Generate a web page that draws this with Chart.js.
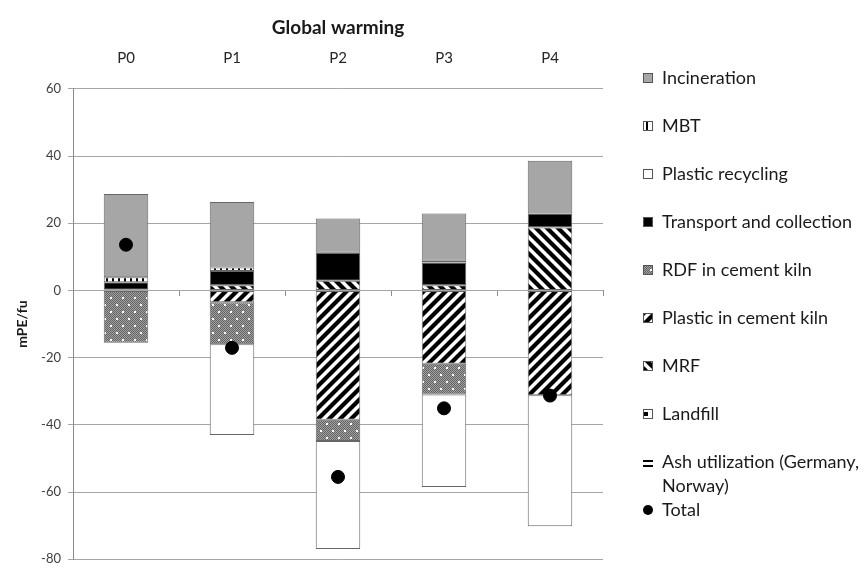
<!DOCTYPE html>
<html>
<head>
<meta charset="utf-8">
<script src="https://cdn.jsdelivr.net/npm/chart.js@4.4.0/dist/chart.umd.min.js"></script>
<style>
  html, body { margin: 0; padding: 0; background: #fff; }
</style>
</head>
<body>
<canvas id="gwChart" width="866" height="574"></canvas>
<script>
// values (mPE/fu)
var categories = ['P0', 'P1', 'P2', 'P3', 'P4'];
var incineration     = [24.8, 19.5, 10.2, 14.1, 15.7];
var mbt              = [1.5, 1.0, null, 0.5, null];
var plasticRecycling = [null, -27.0, -32.2, -27.5, -39.0];
var transport        = [2.2, 4.3, 8.3, 6.8, 4.2];
var rdfKiln          = [-15.6, -12.5, -6.3, -9.2, null];
var plasticKiln      = [null, -3.5, -38.5, -21.8, -31.2];
var mrf              = [null, 1.5, 2.9, 1.5, 18.7];
var landfill         = [0.2, null, null, null, null];
var ashUtil          = [null, null, null, null, null];
var total            = [13.6, -17.1, -55.5, -35.1, -31.3];
var yTicks = [60, 40, 20, 0, -20, -40, -60, -80];

Chart.defaults.font.family = 'Lato, "Liberation Sans", sans-serif';
Chart.defaults.color = '#262626';

var canvas = document.getElementById('gwChart');
var ctx = canvas.getContext('2d');

function makePattern(w, h, draw) {
  var c = document.createElement('canvas');
  c.width = w; c.height = h;
  var g = c.getContext('2d');
  g.fillStyle = '#fff';
  g.fillRect(0, 0, w, h);
  draw(g, w, h);
  return ctx.createPattern(c, 'repeat');
}

// hatch tile; lines run past the tile edges so the corners join up
function diagonal(rising) {
  return makePattern(11, 11, function (g, s) {
    g.strokeStyle = '#000';
    g.lineWidth = 4.2;
    for (var k = -1; k <= 1; k++) {
      g.beginPath();
      if (rising) { g.moveTo(k * s - 3, s + 3); g.lineTo(k * s + s + 3, -3); }
      else { g.moveTo(k * s - 3, -3); g.lineTo(k * s + s + 3, s + 3); }
      g.stroke();
    }
  });
}

var fills = {
  incineration: '#a6a6a6',
  mbt: makePattern(6, 6, function (g) { g.fillStyle = '#000'; g.fillRect(4, 0, 2, 6); }),
  plasticRecycling: '#ffffff',
  transport: '#000000',
  rdfKiln: makePattern(12, 14, function (g, w, h) {
    for (var x = 0; x < w; x++) {
      for (var y = 0; y < h; y++) {
        g.fillStyle = (x + y) % 2 ? '#a0a0a0' : '#646464';
        g.fillRect(x, y, 1, 1);
      }
    }
    g.fillStyle = '#fff';
    g.fillRect(2, 3, 2, 2); g.fillRect(8, 10, 2, 2);
  }),
  plasticKiln: diagonal(true),
  mrf: diagonal(false),
  landfill: makePattern(8, 8, function (g) { g.fillStyle = '#000'; g.fillRect(4, 4, 4, 4); }),
  ashUtil: makePattern(5, 5, function (g) { g.fillStyle = '#000'; g.fillRect(0, 0, 5, 2); })
};

function barSet(label, data, fill, icon) {
  return {
    type: 'bar',
    label: label,
    data: data,
    backgroundColor: fill,
    borderColor: '#666666',
    borderWidth: 1,
    borderSkipped: false,
    categoryPercentage: 1,
    barPercentage: 0.42,
    order: 1,
    legendIcon: icon || 'box'
  };
}

// stacking order from zero outwards (legend shows it reversed)
var datasets = [
  barSet('Ash utilization (Germany,\nNorway)', ashUtil, fills.ashUtil, 'plain'),
  barSet('Landfill', landfill, fills.landfill),
  barSet('MRF', mrf, fills.mrf),
  barSet('Plastic in cement kiln', plasticKiln, fills.plasticKiln),
  barSet('RDF in cement kiln', rdfKiln, fills.rdfKiln),
  barSet('Transport and collection', transport, fills.transport),
  barSet('Plastic recycling', plasticRecycling, fills.plasticRecycling),
  barSet('MBT', mbt, fills.mbt),
  barSet('Incineration', incineration, fills.incineration),
  {
    type: 'line',
    label: 'Total',
    data: total,
    showLine: false,
    stack: 'total',
    pointRadius: 6.5,
    pointHoverRadius: 6.5,
    pointBackgroundColor: '#000',
    pointBorderColor: '#000',
    borderColor: '#000',
    backgroundColor: '#000',
    order: 0,
    legendIcon: 'dot'
  }
];

var sideLegend = {
  id: 'sideLegend',
  afterDraw: function (chart, args, opts) {
    var c = chart.ctx;
    var sets = chart.data.datasets;
    var bars = sets.filter(function (d) { return d.type === 'bar'; }).reverse();
    var items = bars.concat(sets.filter(function (d) { return d.type !== 'bar'; }));
    c.save();
    c.font = opts.fontSize + 'px ' + Chart.defaults.font.family;
    c.textBaseline = 'middle';
    c.textAlign = 'left';
    items.forEach(function (d, i) {
      var cy = opts.top + i * opts.step;
      var bx = opts.boxX, bs = opts.boxSize;
      if (d.legendIcon === 'dot') {
        c.fillStyle = '#000';
        c.beginPath();
        c.arc(bx + bs / 2, cy, bs / 2, 0, Math.PI * 2);
        c.fill();
      } else {
        c.fillStyle = d.backgroundColor;
        c.fillRect(bx, cy - bs / 2, bs, bs);
        if (d.legendIcon !== 'plain') {
          c.strokeStyle = '#555';
          c.lineWidth = 1;
          c.strokeRect(bx + 0.5, cy - bs / 2 + 0.5, bs - 1, bs - 1);
        }
      }
      c.fillStyle = '#1a1a1a';
      d.label.split('\n').forEach(function (line, j) {
        c.fillText(line, opts.textX, cy + j * opts.lineGap);
      });
    });
    c.restore();
  }
};

new Chart(ctx, {
  type: 'bar',
  data: {
    labels: categories,
    datasets: datasets
  },
  plugins: [sideLegend],
  options: {
    responsive: false,
    animation: false,
    devicePixelRatio: 1,
    layout: { padding: { left: 0, right: 263, top: 0, bottom: 7 } },
    plugins: {
      legend: { display: false },
      tooltip: { enabled: false },
      title: {
        display: true,
        text: 'Global warming',
        fullSize: false,
        color: '#1a1a1a',
        font: { size: 19, weight: 'bold' },
        padding: { top: 16, bottom: 10 }
      },
      sideLegend: { top: 78, step: 48, boxX: 643, boxSize: 10, textX: 662, fontSize: 18, lineGap: 24 }
    },
    scales: {
      x: {
        position: 'top',
        stacked: true,
        grid: { display: false, drawTicks: false },
        border: { display: false },
        ticks: { padding: 22, color: '#262626', font: { size: 15 } },
        afterFit: function (scale) { scale.height = 40; }
      },
      x2: {
        axis: 'x',
        type: 'category',
        labels: categories,
        position: { y: 0 },
        offset: true,
        grid: { drawOnChartArea: false, offset: true, tickLength: 6, color: '#8c8c8c' },
        border: { display: false },
        ticks: { display: false },
        afterFit: function (scale) { scale.height = 0; }
      },
      y: {
        stacked: true,
        min: -80,
        max: 60,
        afterBuildTicks: function (scale) {
          scale.ticks = yTicks.map(function (v) { return { value: v }; });
        },
        afterFit: function (scale) { scale.width = 73; },
        ticks: { padding: 7, color: '#404040', font: { size: 13 } },
        grid: { color: '#a6a6a6', tickLength: 5 },
        border: { color: '#8c8c8c' },
        title: {
          display: true,
          text: 'mPE/fu',
          color: '#1a1a1a',
          font: { size: 14, weight: 'bold' },
          padding: { top: 14, bottom: 0 }
        }
      }
    }
  }
});
</script>
</body>
</html>
